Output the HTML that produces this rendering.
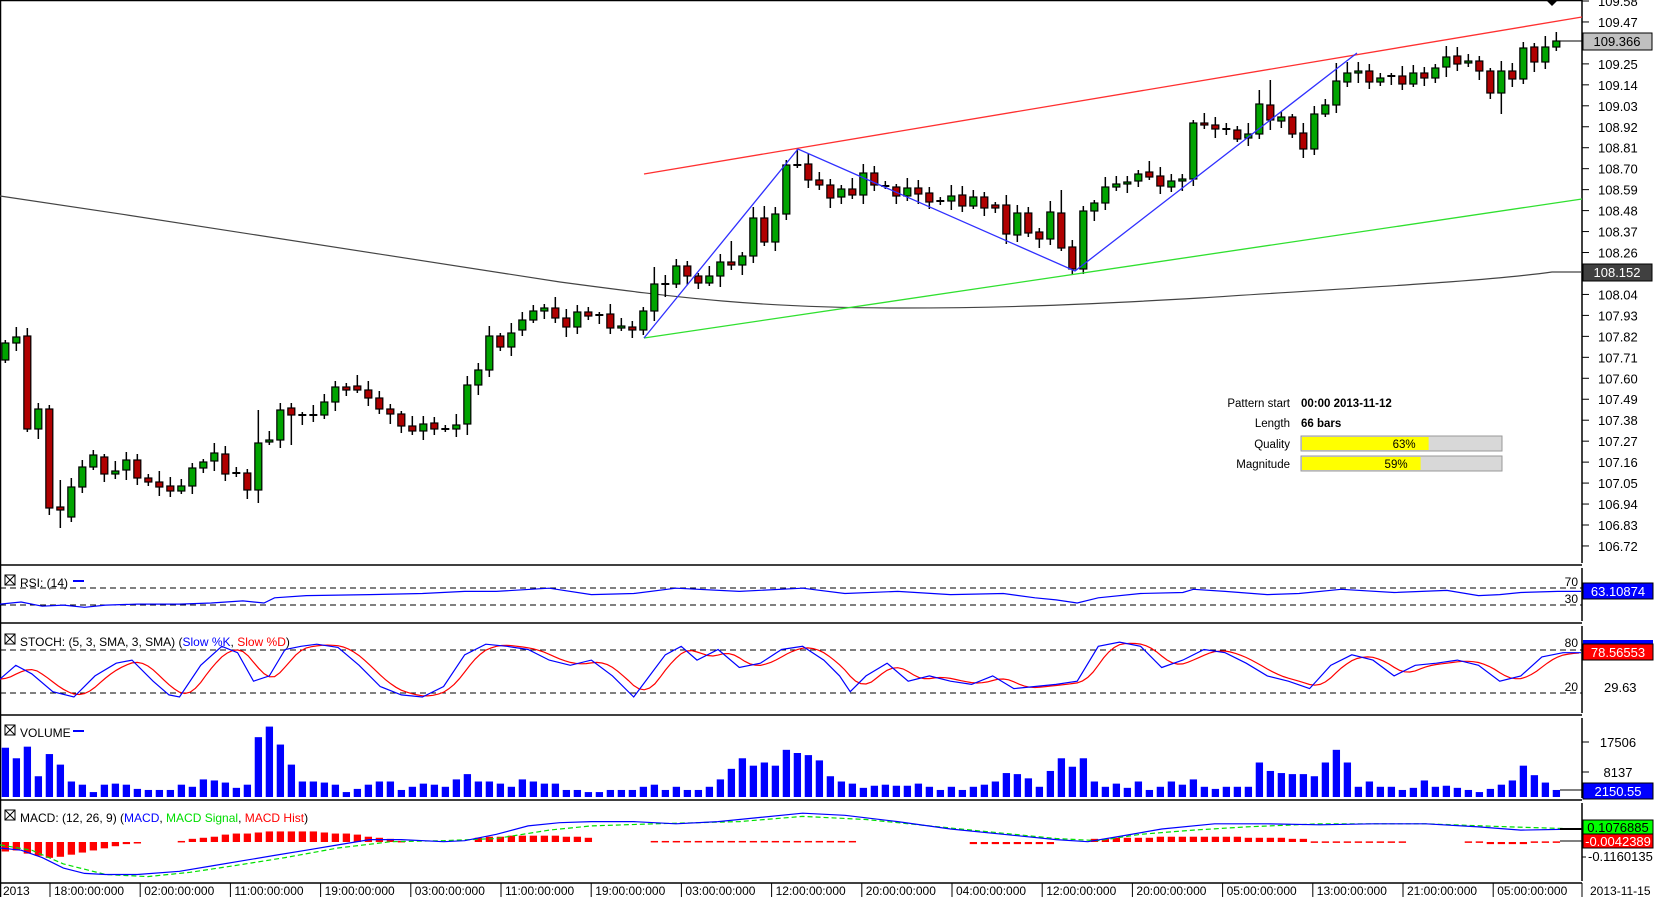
<!DOCTYPE html>
<html><head><meta charset="utf-8"><style>
html,body{margin:0;padding:0;background:#fff;}
svg{display:block;font-family:"Liberation Sans",sans-serif;}
</style></head><body>
<svg id="s" xmlns="http://www.w3.org/2000/svg" width="1655" height="897" viewBox="0 0 1655 897"></svg>
<script>
const S=document.getElementById('s');let h='';
const K=1.0561;
function P(pts){return pts.map(p=>(p[0]*K).toFixed(1)+','+(p[1]*K).toFixed(1)).join(' ');}
h+='<rect x="0" y="0" width="1655" height="897" fill="#fff"/>';
h+='<line x1="0" y1="0.5" x2="1582" y2="0.5" stroke="#000" stroke-width="1.5"/>';
h+='<line x1="0.5" y1="0" x2="0.5" y2="897" stroke="#000" stroke-width="1.5"/>';
[565,623,715,800,883].forEach(y=>h+=`<line x1="0" y1="${y}" x2="1582" y2="${y}" stroke="#000" stroke-width="1.5"/>`);
[[0,563],[568,621],[626,713],[718,798],[803,881]].forEach(a=>h+=`<line x1="1582" y1="${a[0]}" x2="1582" y2="${a[1]}" stroke="#000" stroke-width="1.5"/>`);
const labs=['109.58','109.47','109.36','109.25','109.14','109.03','108.92','108.81','108.70','108.59','108.48','108.37','108.26','108.15','108.04','107.93','107.82','107.71','107.60','107.49','107.38','107.27','107.16','107.05','106.94','106.83','106.72'];
labs.forEach((l,k)=>{const y=1+k*20.96;h+=`<line x1="1582" y1="${y}" x2="1589" y2="${y}" stroke="#000"/>`;h+=`<text x="1598" y="${y+5}" font-size="13">${l}</text>`;});
// MA line smooth
h+=`<path fill="none" stroke="#444" stroke-width="1.2" d="M0,196 C200,225 420,262 560,282 C680,298 760,308 900,308 C1000,308 1080,305 1200,298 C1350,288 1480,282 1552,272 L1582,272"/>`;
const C=[[360,343],[343,337],[336,429],[429,409],[409,508],[507,510],[517,487],[487,467],[467,455],[457,474],[474,471],[470,460],[460,478],[478,482],[482,487],[486,491],[491,486],[486,468],[468,462],[461,453],[454,474],[473,473],[473,490],[490,443],[442,440],[440,410],[408,415],[415,415],[415,415],[415,402],[402,387],[387,390],[386,390],[390,398],[398,409],[409,414],[414,426],[426,431],[431,424],[423,429],[429,429],[429,425],[424,385],[385,370],[370,336],[336,347],[347,333],[330,320],[320,311],[311,308],[308,318],[318,327],[327,312],[312,316],[315,315],[314,328],[328,326],[327,330],[330,311],[311,284],[284,284],[284,266],[266,276],[276,283],[283,276],[276,262],[262,265],[265,256],[256,218],[218,242],[242,214],[214,165],[165,165],[164,180],[180,185],[185,198],[197,189],[189,195],[195,173],[173,185],[186,186],[187,196],[196,188],[188,194],[193,202],[201,201],[201,196],[195,206],[206,197],[197,208],[205,208],[205,234],[235,213],[213,233],[232,239],[239,212],[213,248],[247,269],[269,211],[211,203],[203,187],[187,184],[184,182],[181,174],[172,177],[176,186],[187,181],[181,179],[179,123],[123,125],[125,129],[129,129],[130,139],[138,134],[134,104],[105,120],[121,117],[117,134],[133,149],[149,114],[114,105],[105,81],[82,73],[73,71],[71,82],[82,78],[76,76],[76,84],[84,73],[73,78],[78,68],[67,57],[56,64],[63,61],[61,71],[71,93],[93,71],[71,79],[79,48],[47,62],[62,47],[47,41]];
const HI={5:480,23:410,26:403,44:326,59:267,71:160,72:148,96:190,114:90,115:80,121:63,69:206,66:241};
const LO={5:528,23:503,26:445,42:435,97:275,136:114,2:432,6:522,60:297,65:287};
C.forEach((c,i)=>{const x=5.33+11*i;const t=Math.min(c[0],c[1]),b=Math.max(c[0],c[1]);
 const hi=HI[i]!==undefined?HI[i]:t-(3+(i*7)%9);const lo=LO[i]!==undefined?LO[i]:b+(3+(i*5)%8);
 h+=`<line x1="${x}" y1="${hi}" x2="${x}" y2="${lo}" stroke="#000" stroke-width="1.5"/>`;
 if(b-t<2){h+=`<line x1="${x-4}" y1="${t}" x2="${x+4}" y2="${t}" stroke="#000" stroke-width="2"/>`;}
 else{const g=c[1]<c[0];h+=`<rect x="${x-3.5}" y="${t}" width="7" height="${b-t}" fill="${g?'#00a400':'#b00000'}" stroke="#000" stroke-width="1.2"/>`;}
});
h+='<line x1="644" y1="174" x2="1582" y2="17" stroke="#ff3030" stroke-width="1.3"/>';
h+='<line x1="644" y1="338" x2="1582" y2="199" stroke="#30e030" stroke-width="1.3"/>';
h+='<polyline fill="none" stroke="#3030ff" stroke-width="1.3" points="644,338 798,149 1075,271 1357,53"/>';
h+='<line x1="1560" y1="41" x2="1583" y2="41" stroke="#000"/><rect x="1583" y="33" width="69" height="17" fill="#c0c0c0" stroke="#000"/><text x="1617" y="46" font-size="13" text-anchor="middle">109.366</text>';
h+='<rect x="1583" y="264" width="69" height="17" fill="#404040" stroke="#000"/><text x="1617" y="277" font-size="13" text-anchor="middle" fill="#fff">108.152</text>';
h+='<path d="M1546,0 L1558,0 L1552,6 Z" fill="#000"/>';
const inf=[['Pattern start','00:00 2013-11-12',407],['Length','66 bars',427]];
inf.forEach(a=>{h+=`<text x="1290" y="${a[2]}" font-size="11.5" text-anchor="end">${a[0]}</text><text x="1301" y="${a[2]}" font-size="11.5" font-weight="bold">${a[1]}</text>`;});
[['Quality',63,436],['Magnitude',59,456]].forEach(a=>{const y=a[2];const w=201*a[1]/100;
 h+=`<text x="1290" y="${y+12}" font-size="11.5" text-anchor="end">${a[0]}</text>`;
 h+=`<rect x="1301" y="${y}" width="201" height="15" fill="#d8d8d8" stroke="#999"/><rect x="1302" y="${y+1}" width="${w}" height="13" fill="#ffff00"/>`;
 h+=`<text x="${1301+w-12}" y="${y+12}" font-size="11.5" text-anchor="end">${a[1]}%</text>`;});
function box(y){return `<rect x="5" y="${y-10}" width="10" height="10" fill="none" stroke="#000"/><line x1="5" y1="${y-10}" x2="15" y2="${y}" stroke="#000"/><line x1="15" y1="${y-10}" x2="5" y2="${y}" stroke="#000"/>`;}
h+=box(585)+'<text x="20" y="587" font-size="12">RSI: (14)</text><line x1="73" y1="581" x2="84" y2="581" stroke="#00f" stroke-width="2"/>';
h+=box(644)+'<text x="20" y="646" font-size="12">STOCH: (5, 3, SMA, 3, SMA) (<tspan fill="#00f">Slow %K</tspan>, <tspan fill="#f00">Slow %D</tspan>)</text>';
h+=box(735)+'<text x="20" y="737" font-size="12">VOLUME</text><line x1="73" y1="731" x2="84" y2="731" stroke="#00f" stroke-width="2"/>';
h+=box(820)+'<text x="20" y="822" font-size="12">MACD: (12, 26, 9) (<tspan fill="#00f">MACD</tspan>, <tspan fill="#0d0">MACD Signal</tspan>, <tspan fill="#f00">MACD Hist</tspan>)</text>';
[588,605,650,693].forEach(y=>h+=`<line x1="0" y1="${y}" x2="1582" y2="${y}" stroke="#000" stroke-dasharray="6,4"/>`);
[['70',586],['30',603],['80',647],['20',691]].forEach(a=>h+=`<text x="1578" y="${a[1]}" font-size="12" text-anchor="end">${a[0]}</text>`);
const rsi=[[0,572],[20,570],[40,574],[60,573],[80,575],[100,573],[130,572],[170,572],[200,571],[230,569],[250,571],[260,566],[290,564],[350,563],[400,562],[440,560],[470,560],[520,557],[560,563],[600,562],[640,557],[700,560],[760,557],[800,562],[850,560],[900,563],[950,562],[980,566],[1000,568],[1020,571],[1040,566],[1080,562],[1120,561],[1130,558],[1160,560],[1200,563],[1230,562],[1270,558],[1320,561],[1370,559],[1400,564],[1420,563],[1440,561],[1475,560],[1497,560]];
h+=`<polyline fill="none" stroke="#00f" stroke-width="1.2" points="${P(rsi)}"/>`;
h+='<rect x="1583" y="583" width="70" height="16" fill="#0000ff" stroke="#000"/><text x="1618" y="596" font-size="13" fill="#fff" text-anchor="middle">63.10874</text>';
const st=[[0,643],[15,630],[30,638],[50,655],[70,660],[90,640],[110,628],[125,625],[145,645],[160,658],[170,660],[190,630],[210,612],[225,618],[240,645],[255,640],[270,615],[285,612],[300,610],[320,613],[340,630],[360,650],[380,658],[400,660],[420,650],[440,620],[460,610],[480,612],[500,615],[520,625],[540,630],[560,625],[580,640],[600,660],[615,640],[630,620],[645,612],[660,625],[680,615],[700,632],[720,628],[740,615],[760,612],[780,625],[795,640],[805,655],[820,640],[840,628],[860,645],[880,640],[900,645],[920,648],[940,640],[960,652],[980,650],[1000,648],[1020,645],[1040,612],[1060,608],[1080,612],[1100,632],[1120,625],[1140,615],[1160,618],[1180,628],[1200,640],[1220,645],[1240,652],[1260,630],[1280,620],[1300,625],[1320,640],[1340,630],[1360,628],[1380,625],[1400,630],[1420,645],[1440,640],[1460,622],[1480,618],[1497,618]];
function f(x){for(let i=1;i<st.length;i++){if(x<=st[i][0]){const a=st[i-1],b=st[i];return a[1]+(b[1]-a[1])*(x-a[0])/(b[0]-a[0]);}}return st[st.length-1][1];}
const rd=[];for(let x=0;x<=1497;x+=5){let s=0,n=0;for(let d=0;d<=22;d+=2){s+=f(Math.max(0,x-d));n++;}rd.push([x,s/n]);}
h+=`<polyline fill="none" stroke="#f00" stroke-width="1.2" points="${P(rd)}"/>`;
h+=`<polyline fill="none" stroke="#00f" stroke-width="1.2" points="${P(st)}"/>`;
h+='<rect x="1583" y="640" width="70" height="4" fill="#0000ff"/><rect x="1583" y="644" width="70" height="16" fill="#ff0000" stroke="#000"/><text x="1618" y="657" font-size="13" fill="#fff" text-anchor="middle">78.56553</text>';
h+='<text x="1604" y="692" font-size="13">29.63</text>';
const vt=[708,718,707,735,714,724,740,743,750,743,742,743,747,748,748,748,743,745,738,739,741,746,743,698,688,705,724,740,740,741,743,750,747,743,740,740,748,745,742,743,745,738,733,740,740,742,745,738,740,742,742,748,748,750,750,748,748,748,745,743,748,745,748,748,745,738,728,718,725,722,725,710,713,715,720,735,740,742,746,744,743,744,744,742,745,748,745,748,745,743,740,732,733,737,745,730,718,726,718,740,745,742,746,740,748,745,740,743,738,745,747,745,745,745,722,730,732,733,733,735,722,710,722,745,740,745,745,748,746,739,745,744,746,748,750,747,743,739,725,734,741,748];
vt.forEach((t,i)=>{const x=5.33+11*i;const y=t*K;h+=`<rect x="${x-3.6}" y="${y}" width="7.3" height="${797-y}" fill="#0000ff"/>`;});
[['17506',746],['8137',776]].forEach(a=>h+=`<line x1="1582" y1="${a[1]-4}" x2="1589" y2="${a[1]-4}" stroke="#000"/><text x="1618" y="${a[1]+1}" font-size="13" text-anchor="middle">${a[0]}</text>`);
h+='<line x1="1560" y1="790" x2="1583" y2="790" stroke="#000"/><rect x="1583" y="783" width="70" height="16" fill="#0000ff" stroke="#000"/><text x="1618" y="796" font-size="13" fill="#fff" text-anchor="middle">2150.55</text>';
const hv=[];for(let i=0;i<142;i++){let v=0;
 if(i<=12)v=-[9,8,11,13,15,14,12,10,8,6,4,2,1][i];
 else if(i>=16&&i<=36)v=Math.max(1,Math.round(10*Math.sin((i-15)/22*Math.PI)));
 else if(i>=43&&i<=53)v=Math.round(4+2*Math.sin((i-43)/10*Math.PI));
 else if(i>=59&&i<=77)v=1;else if(i>=88&&i<=95)v=-2;else if(i>=99&&i<=118)v=Math.round(3+2*Math.sin((i-99)/19*Math.PI));
 else if(i>=119&&i<=127)v=0.6;else if(i>=133)v=(i>=135&&i<=138)?-2:0.6;hv.push(v);}
const z=842;hv.forEach((v,i)=>{if(v===0)return;const x=5.33+11*i;const hh=Math.abs(v)*K;h+=`<rect x="${x-3.6}" y="${v>0?z-hh:z}" width="7.3" height="${Math.max(hh,1.5)}" fill="#ff0000"/>`;});
const mb=[[0,803],[20,805],[40,812],[60,822],[80,827],[100,828],[130,828],[170,825],[200,820],[230,815],[260,810],[290,805],[320,800],[350,795],[380,795],[420,797],[440,796],[470,790],[500,782],[530,779],[560,778],[600,778],[640,780],[680,778],[720,774],[760,770],[800,772],[850,778],[900,785],[950,790],[1000,795],[1030,797],[1060,792],[1100,785],[1150,780],[1200,780],[1250,781],[1300,780],[1350,780],[1400,783],[1440,786],[1497,785]];
const mg=[[0,800],[30,805],[60,818],[100,828],[140,830],[180,826],[220,820],[270,812],[320,803],[370,797],[420,796],[470,794],[520,786],[560,782],[620,780],[700,778],[760,773],[820,776],[880,782],[940,788],[1000,794],[1040,796],[1080,790],[1130,786],[1180,783],[1250,780],[1350,780],[1430,783],[1497,785]];
h+=`<polyline fill="none" stroke="#00e000" stroke-width="1.2" stroke-dasharray="5,3" points="${P(mg)}"/>`;
h+=`<polyline fill="none" stroke="#00f" stroke-width="1.2" points="${P(mb)}"/>`;
h+='<line x1="1560" y1="829" x2="1583" y2="829" stroke="#000" stroke-width="2"/><line x1="1560" y1="841" x2="1583" y2="841" stroke="#000"/>';
h+='<rect x="1583" y="820" width="70" height="14" fill="#00ff00" stroke="#000"/><text x="1618" y="832" font-size="13" text-anchor="middle">0.1076885</text>';
h+='<rect x="1583" y="834" width="70" height="14" fill="#ff0000" stroke="#000"/><text x="1618" y="846" font-size="13" fill="#fff" text-anchor="middle">-0.0042389</text>';
h+='<line x1="1582" y1="857" x2="1586" y2="857" stroke="#000"/><text x="1588" y="861" font-size="13">-0.1160135</text>';
h+='<text x="3" y="895" font-size="12">2013</text>';
const tl=['18:00:00:000','02:00:00:000','11:00:00:000','19:00:00:000','03:00:00:000','11:00:00:000','19:00:00:000','03:00:00:000','12:00:00:000','20:00:00:000','04:00:00:000','12:00:00:000','20:00:00:000','05:00:00:000','13:00:00:000','21:00:00:000','05:00:00:000'];
tl.forEach((l,k)=>{const x=50+90.2*k;h+=`<line x1="${x}" y1="883" x2="${x}" y2="897" stroke="#000"/><text x="${x+4}" y="895" font-size="12">${l}</text>`;});
h+='<line x1="1582" y1="883" x2="1582" y2="897" stroke="#000"/><text x="1590" y="895" font-size="12">2013-11-15</text>';
S.innerHTML=h;
</script>
</body></html>
